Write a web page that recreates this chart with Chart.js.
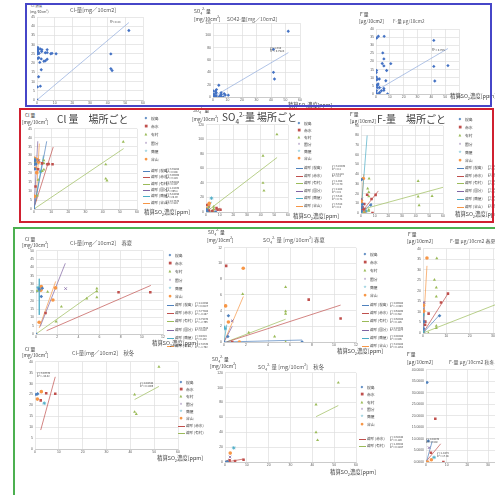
<!DOCTYPE html>
<html>
<head>
<meta charset="utf-8">
<script src="https://cdn.jsdelivr.net/npm/chart.js@4"></script>
<style>
body { margin: 0; background: #fff; }
#page { position: relative; width: 495px; height: 495px; overflow: hidden; background: #fff;
  font-family: "Noto Sans CJK JP", "Noto Sans", sans-serif; color: #404040; }
.t { position: absolute; white-space: nowrap; line-height: 1.05; }
.t sub, .t sup { font-size: 65%; line-height: 0; }
.box { position: absolute; box-sizing: border-box; }
canvas { position: absolute; }
</style>
</head>
<body>
<div id="page"></div>
<script>
var places = ['桜島', '赤水', '有村', '国分', '鹿屋', '谷山'];
var placeColors = ['#4F81BD', '#C0504D', '#9BBB59', '#8064A2', '#4BACC6', '#F79646'];
var placeShapes = ['rectRot', 'rect', 'triangle', 'crossRot', 'star', 'circle'];
var glyphs = ['◆', '■', '▲', '×', '✳', '●'];

// [SO2 ppm, Cl- mg/10cm2] per place, spring/summer and autumn/winter
var clSpring = [
  [[0, 0], [0.3, 27], [0.5, 22.5], [0.6, 27.5]],
  [[0.9, 12.6], [7.8, 25.1], [10.8, 25.1]],
  [[0.1, 25.9], [1.1, 25.3], [1.9, 7.5], [2.4, 16.4], [4.8, 21.3], [5.75, 27.3], [5.75, 25.7], [5.75, 22.1]],
  [[2.8, 27.3]],
  [[0.2, 27.9], [0.3, 26.5]],
  [[0.3, 7.1], [0.5, 28.5], [0.45, 26.3], [1.6, 20.4], [1.85, 27.7]]
];
var clAutumn = [
  [[0.4, 25], [1.1, 25.3]],
  [[2.4, 22.3], [4.7, 25.6], [8.5, 25.3]],
  [[41.8, 25], [41.8, 17], [42.5, 16], [52, 37.7]],
  [],
  [[3.9, 21]],
  [[1, 22.9], [2.65, 26.3]]
];
// SO4 2- mg/10cm2
var so4Spring = [
  [[0, 0], [0.4, 3.35], [0.35, 0.7], [7.1, 0]],
  [[0.2, 9.7], [7.7, 5.4], [10.6, 3.0], [0.75, 0]],
  [[1.7, 6.1], [5.6, 7.0], [5.6, 3.9], [5.6, 3.6], [2.25, 1.2], [4.6, 0.7], [5.6, 0]],
  [[0.75, 2.7]],
  [[0, 1.9], [0.1, 1.7]],
  [[1.75, 9.4], [0.15, 4.6], [0.4, 2.55], [1.4, 0]]
];
var so4Autumn = [
  [[0.5, 0], [1.1, 0.5]],
  [[2.1, 2.2], [4.6, 1.3], [8.5, 3.1]],
  [[41.7, 77.3], [41.7, 40], [42.4, 29.3], [51.9, 106.7]],
  [[2.3, 6.7]],
  [[4, 19]],
  [[2.4, 12], [1, 0.3]]
];
// F- ug/10cm2
var fSpring = [
  [[7.1, 8.2], [0.4, 5.4], [0.3, 2]],
  [[10.7, 18.7], [7.7, 14.5], [2.4, 9.2], [0.9, 3.9], [1, 5.4]],
  [[5.9, 35.5], [4.9, 25.3], [5.7, 21.6], [5.7, 17.3], [5.7, 3.4], [5.7, 2.3], [2.3, 0]],
  [[0.4, 14.5]],
  [[0, 8.6], [0.2, 0.5]],
  [[1.7, 35.6], [0.15, 13.2], [0.3, 10.4], [0.2, 0]]
];
var fAutumn = [
  [[0.5, 34.5], [1.1, 9.1]],
  [[4.5, 18.8], [8.4, 0], [2.4, 4]],
  [[41.8, 33], [41.8, 17], [42.5, 8], [52, 17.5]],
  [[1.5, 6.2]],
  [[3.9, 2]],
  [[0.8, 0], [2.6, 1]]
];

// trend line end points
var clTrendAll = [[0, 0], [52, 42]];
var so4TrendAll = [[0, 0], [52, 72]];
var fTrendAll = [[1, 2.5], [52, 28]];
var clTrendPlace = [[[0, 0], [7.4, 38]], [[0.6, 2.4], [11.2, 34.8]], [[0, 0], [52.2, 33.9]], [[0, 0], [2.2, 38]], [[0, 0], [5.5, 30]], [[1.2, 4.3], [3.1, 36.7]]];
var so4TrendPlace = [[[0, 0], [8, 1]], [[0, 0], [10.6, 5]], [[0, 0], [52, 75]], [[0, 0], [2.3, 6]], [[0, 0], [4, 14]], [[0, 0], [2.4, 9]]];
var fTrendPlace = [[[0, 0], [8, 10]], [[0, 0], [12.7, 22.8]], [[0, 3.4], [60, 26.5]], [[0, 0], [1.5, 10]], [[0, 0], [4.5, 80]], [[0, 0], [2, 40]]];
var clTrendSpring = [[[0, 25], [0.6, 27]], [[1, 2], [10.85, 29.2]], [[0, 0], [5.75, 26]], [[0.4, 4.5], [2.77, 42.5]], [[0.31, 33.2], [0.31, 11.5]], [[0.3, 3.6], [1.86, 31.6]]];
var so4TrendSpring = [[[0, 0], [7.1, 0.25]], [[0.24, 0], [10.6, 4.7]], [[0.2, 0], [5.6, 2.9]], [[0, 0], [0.75, 2]], [[0, 0], [0.25, 2.2]], [[0, 0], [1.76, 5.8]]];
var fTrendSpring = [[[0, 0], [7.1, 8.6]], [[0, 0], [10.7, 18.7]], [[0, 0], [60, 26]], [[0, 0], [0.4, 15]], [[0, 0], [0.3, 12]], [[0, 0], [1.7, 31.9]]];
var clTrendAutumn = [null, [[2.4, 8.7], [8.5, 33.1]], [[41.8, 22.7], [52, 28.7]], null, null, null];
var so4TrendAutumn = [null, [[1.5, 0.4], [8.5, 4]], [[41.7, 61], [51.9, 76]], null, null, null];
var fTrendAutumn = [[[0.2, 0], [3, 9]], [[0.3, 0.5], [7.1, 7.9]], null, null, null, null];

var clEq = ['y = 3.3985x<br>R² = 0.508', 'y = 3.9606x<br>R² = 3.229', 'y = 0.6488x<br>R² = 0.297', 'y = 1.0193x<br>R² = 356.1', 'y = 5.4499x<br>R² = 29.03', 'y = 10.757x<br>R² = 2.924'];
var so4Eq = ['y = 3.2093x<br>R² = 0.2', 'y = 0.412x<br>R² = 0.3', 'y = 1.45x<br>R² = 0.79', 'y = 2.88x<br>R² = 0.5', 'y = 3.51x<br>R² = 0.71', 'y = 3.32x<br>R² = 0.4'];
var fEq = ['y = 1.2x<br>R² = 0.1', 'y = 1.8x<br>R² = 0.2', 'y = 0.44x<br>R² = 0.3', 'y = 6.1x<br>R² = 0.2', 'y = 17x<br>R² = 0.6', 'y = 20x<br>R² = 0.1'];
var clSpringEq = ['y = 12.099x<br>R² = 0.0227', 'y = 3.7798x<br>R² = -0.207', 'y = 4.7907x<br>R² = -2.766', 'y = 15.362x<br>R² = 0.813', 'y = 94.62x<br>R² = 0.132', 'y = 17.033x<br>R² = -1.792'];
var so4SpringEq = ['y = 0.0608x<br>R² = -0.689', 'y = 0.6486x<br>R² = 0.382', 'y = 0.5098x<br>R² = 0.185', 'y = 2.2843x<br>R² = 0.1277', 'y = 0.0808x<br>R² = 0.505', 'y = 3.2088x<br>R² = 0.1252'];

var page = document.getElementById('page');

function xy(p) { return {x: p[0], y: p[1]}; }

function txt(x, y, html, size, color, extra) {
  var d = document.createElement('div');
  d.className = 't';
  d.style.left = x + 'px';
  d.style.top = y + 'px';
  d.style.fontSize = size + 'px';
  if (color) d.style.color = color;
  if (extra) d.style.cssText += extra;
  d.innerHTML = html;
  page.appendChild(d);
  return d;
}

function frame(x, y, w, h, color, sides) {
  var d = document.createElement('div');
  d.className = 'box';
  d.style.left = x + 'px'; d.style.top = y + 'px';
  d.style.width = w + 'px'; d.style.height = h + 'px';
  d.style.borderStyle = 'solid';
  d.style.borderColor = color;
  d.style.borderWidth = sides;
  page.appendChild(d);
}

function pointSet(pts, color, shape, r) {
  var stroke = shape === 'crossRot' || shape === 'star';
  return {data: pts.map(xy), pointStyle: shape, pointRadius: r || 1.8,
    backgroundColor: color, borderColor: color, borderWidth: stroke ? 0.8 : 0};
}
function lineSet(seg, color) {
  return {data: seg.map(xy), showLine: true, pointRadius: 0, borderColor: color, borderWidth: 0.7};
}

function placeSets(data, trends) {
  var sets = [];
  data.forEach(function (pts, i) { sets.push(pointSet(pts, placeColors[i], placeShapes[i], 1.8)); });
  trends.forEach(function (seg, i) { if (seg) sets.push(lineSet(seg, placeColors[i])); });
  return sets;
}

function flat(a, b) {
  var out = [];
  a.concat(b).forEach(function (s) { out = out.concat(s); });
  return out;
}
function byPlace(a, b) { return a.map(function (s, i) { return s.concat(b[i]); }); }

function plot(o) {
  var yW = o.yW || 9, xH = 7, padT = 4, padR = 6;
  var w = o.w + yW + padR, h = o.h + padT + xH;
  var c = document.createElement('canvas');
  c.width = w; c.height = h;
  c.style.left = (o.x - yW) + 'px';
  c.style.top = (o.y - padT) + 'px';
  page.appendChild(c);
  var font = {size: o.fs || 3.6, family: 'Liberation Sans'};
  new Chart(c, {
    type: 'scatter',
    data: {datasets: o.sets},
    options: {
      responsive: false, animation: false, devicePixelRatio: 1,
      layout: {padding: {top: padT, right: padR, left: 0, bottom: 0}},
      plugins: {legend: {display: false}, tooltip: {enabled: false}},
      scales: {
        x: {type: 'linear', min: 0, max: o.xMax,
          ticks: {stepSize: o.xStep, font: font, color: '#595959', padding: 1.5, autoSkip: false, maxRotation: 0},
          grid: {color: '#dedede', lineWidth: 0.7, drawTicks: false},
          border: {color: '#bfbfbf', width: 0.7},
          afterFit: function (s) { s.height = xH; }},
        y: {type: 'linear', min: 0, max: o.yMax,
          ticks: {stepSize: o.yStep, font: font, color: '#595959', padding: 2, autoSkip: false,
            callback: o.yFmt || function (v) { return v; }},
          grid: {color: '#dedede', lineWidth: 0.7, drawTicks: false},
          border: {display: false},
          afterFit: function (s) { s.width = yW; }}
      }
    }
  });
}

function legend(x, y, dy, idx, ly, ldy, lidx, eqX, eqs) {
  idx.forEach(function (i, k) {
    txt(x - 1.5, y + k * dy - 2, glyphs[i], 3.6, placeColors[i], 'font-family:"DejaVu Sans"');
    txt(x + 5, y + k * dy - 2, places[i], 3.8);
  });
  lidx.forEach(function (i, k) {
    var yy = ly + k * ldy;
    var d = document.createElement('div');
    d.className = 'box';
    d.style.cssText = 'left:' + (x - 3) + 'px;top:' + yy + 'px;width:7px;height:1px;background:' + placeColors[i];
    page.appendChild(d);
    txt(x + 5, yy - 2, '線形 (' + places[i] + ')', 3.6);
    if (eqs) txt(eqX, yy - 3, eqs[i], 2.6, '#404040');
  });
}

var blueDots = '#4472C4', blueTrend = '#8FAADC';

// ---- top row: all data ----
plot({x: 37, y: 17, w: 106, h: 83, xMax: 60, xStep: 10, yMax: 45, yStep: 5, yW: 9, fs: 3.4,
  sets: [pointSet(flat(clSpring, clAutumn), blueDots, 'rectRot', 1.7), lineSet(clTrendAll, blueTrend)]});
plot({x: 213, y: 23, w: 87, h: 74, xMax: 60, xStep: 10, yMax: 120, yStep: 20, yW: 10, fs: 3.4,
  sets: [pointSet(flat(so4Spring, so4Autumn), blueDots, 'rectRot', 1.7), lineSet(so4TrendAll, blueTrend)]});
plot({x: 376, y: 29, w: 83, h: 65, xMax: 60, xStep: 10, yMax: 40, yStep: 5, yW: 9, fs: 3.4,
  sets: [pointSet(flat(fSpring, fAutumn), blueDots, 'rectRot', 1.7), lineSet(fTrendAll, blueTrend)]});

txt(31, 4, 'Cl<sup>-</sup>濃度', 3.6);
txt(30, 10, '(mg/10cm<sup>2</sup>)', 3.4);
txt(70, 8, 'Cl-量[mg／10cm2]', 5.4, '#595959');
txt(110, 21, 'R²= 0.88', 2.8);
txt(194, 8, 'SO<sub>4</sub><sup>2-</sup> 量', 4.8);
txt(194, 16, '[mg/10cm<sup>2</sup>]', 4.8);
txt(227, 16, 'SO42-量[mg／10cm2]', 5, '#595959');
txt(270, 47, 'y = 1.38x<br>R² = 0.7928', 2.8);
txt(288, 102, '積算SO<sub>2</sub>濃度[ppm]', 5.2);
txt(360, 11, 'F<sup>-</sup>量', 4.8);
txt(359, 19, '[μg/10cm2]', 4.6);
txt(393, 19, 'F-量 μg/10cm2', 4.6, '#595959');
txt(432, 49, 'R² = 0.755', 2.8);
txt(450, 94, '積算SO<sub>2</sub>濃度[ppm]', 5.4);

// ---- second row: by place ----
var allIdx = [0, 1, 2, 3, 4, 5];
plot({x: 34, y: 128, w: 103, h: 81, xMax: 60, xStep: 10, yMax: 45, yStep: 5, yW: 9, fs: 3.4,
  sets: placeSets(byPlace(clSpring, clAutumn), clTrendPlace)});
plot({x: 206, y: 124, w: 82, h: 88, xMax: 60, xStep: 10, yMax: 120, yStep: 20, yW: 10, fs: 3.4,
  sets: placeSets(byPlace(so4Spring, so4Autumn), so4TrendPlace)});
plot({x: 361, y: 125, w: 82, h: 88, xMax: 60, xStep: 10, yMax: 90, yStep: 10, yW: 9, fs: 3.4,
  sets: placeSets(byPlace(fSpring, fAutumn), fTrendPlace)});

txt(25, 112, 'Cl<sup>-</sup>量', 4.8);
txt(22, 119, '[mg/10cm<sup>2</sup>]', 4.8);
txt(57, 114, 'Cl 量　場所ごと', 10, '#404040');
legend(146, 119, 8.2, allIdx, 171, 6.3, allIdx, 166, clEq);
txt(144, 210, '積算SO<sub>2</sub>濃度[ppm]', 5.4);

txt(193, 108, 'SO<sub>4</sub><sup>2-</sup> 量', 4.6);
txt(192, 116, '[mg/10cm<sup>2</sup>]', 4.8);
txt(222, 112, 'SO<sub>4</sub><sup>2-</sup>量 場所ごと', 10, '#404040');
legend(299, 124, 6.9, allIdx, 168, 7.6, allIdx, 332, so4Eq);
txt(293, 214, '積算SO<sub>2</sub>濃度[ppm]', 5.4);

txt(350, 111, 'F<sup>-</sup>量', 4.8);
txt(350, 118, '[μg/10cm2]', 4.8);
txt(377, 114, 'F-量　場所ごと', 10, '#404040');
legend(460, 120, 8.2, allIdx, 168, 7.7, allIdx, 488, fEq);
txt(455, 212, '積算SO<sub>2</sub>濃度[ppm]', 5.4);

// ---- spring / summer ----
plot({x: 36, y: 250, w: 127, h: 84, xMax: 12, xStep: 2, yMax: 50, yStep: 5, yW: 9, fs: 3.4,
  sets: placeSets(clSpring, clTrendSpring)});
plot({x: 224, y: 247, w: 132, h: 95, xMax: 12, xStep: 2, yMax: 12, yStep: 2, yW: 8, fs: 3.4,
  sets: placeSets(so4Spring, so4TrendSpring)});
plot({x: 423, y: 248, w: 140, h: 85, xMax: 60, xStep: 10, yMax: 40, yStep: 5, yW: 9, fs: 3.4,
  sets: placeSets(fSpring, fTrendSpring)});

txt(25, 236, 'Cl<sup>-</sup>量', 4.8);
txt(22, 242, '[mg/10cm<sup>2</sup>]', 4.8);
txt(70, 241, 'Cl-量[mg／10cm2]　春夏', 5.4, '#595959');
legend(170, 256, 8.2, allIdx, 305, 8.2, allIdx, 195, clSpringEq);
txt(152, 341, '積算SO<sub>2</sub>濃度[ppm]', 5.4);

txt(208, 229, 'SO<sub>4</sub><sup>2-</sup> 量', 4.8);
txt(207, 237, '[mg/10cm<sup>2</sup>]', 4.8);
txt(263, 238, 'SO<sub>4</sub><sup>2-</sup> 量 [mg/10cm<sup>2</sup>] 春夏', 5.4, '#595959');
legend(365, 255, 8.2, allIdx, 305, 8.2, allIdx, 390, so4SpringEq);
txt(337, 349, '積算SO<sub>2</sub>濃度[ppm]', 5.4);

txt(408, 231, 'F<sup>-</sup>量', 4.8);
txt(407, 238, '[μg/10cm2]', 4.8);
txt(450, 238, 'F-量 μg/10cm2 春夏', 5, '#595959');

// ---- autumn / winter ----
plot({x: 35, y: 361, w: 143, h: 88, xMax: 60, xStep: 10, yMax: 40, yStep: 5, yW: 9, fs: 3.4,
  sets: placeSets(clAutumn, clTrendAutumn)});
plot({x: 225, y: 372, w: 131, h: 90, xMax: 60, xStep: 10, yMax: 120, yStep: 20, yW: 10, fs: 3.4,
  sets: placeSets(so4Autumn, so4TrendAutumn)});
plot({x: 426, y: 369, w: 124, h: 93, xMax: 60, xStep: 10, yMax: 40, yStep: 5, yW: 18, fs: 3.4,
  yFmt: function (v) { return v.toFixed(4); },
  sets: placeSets(fAutumn, fTrendAutumn)});

txt(25, 346, 'Cl<sup>-</sup>量', 4.8);
txt(22, 352, '[mg/10cm<sup>2</sup>]', 4.8);
txt(72, 351, 'Cl-量[mg／10cm2]　秋冬', 5.4, '#595959');
txt(37, 372, 'y = 3.9337x<br>R² = -44.42', 2.6);
txt(140, 382, 'y = 0.9434x<br>R² = 0.2006', 2.6);
legend(181, 383, 7.2, allIdx, 426, 7.2, [1, 2]);
txt(157, 456, '積算SO<sub>2</sub>濃度[ppm]', 5.4);

txt(212, 356, 'SO<sub>4</sub><sup>2-</sup> 量', 4.8);
txt(210, 363, '[mg/10cm<sup>2</sup>]', 4.8);
txt(258, 365, 'SO<sub>4</sub><sup>2-</sup> 量 [mg/10cm<sup>2</sup>]　秋冬', 5.4, '#595959');
legend(362, 388, 7.3, allIdx, 439, 7.3, [1, 2], 390, ['', 'y = 0.3844x<br>R² = 0.189', 'y = 1.4602x<br>R² = 0.2847']);
txt(330, 470, '積算SO<sub>2</sub>濃度[ppm]', 5.4);

txt(407, 351, 'F<sup>-</sup>量', 4.8);
txt(407, 359, '[μg/10cm2]', 4.8);
txt(449, 359, 'F-量 μg/10cm2 秋冬', 5, '#595959');
txt(426, 438, 'y = 0.9407x<br>R² = 0.502', 2.6);
txt(437, 452, 'y = 1.447x<br>R² = 17.08', 2.6);

// ---- coloured frames drawn over the sheet ----
frame(25, 3, 467, 104, '#4646C8', '2px');
frame(19, 108, 475, 115, '#D02030', '2px');
frame(13, 227, 490, 280, '#4CB050', '2px');
</script>
</body>
</html>
